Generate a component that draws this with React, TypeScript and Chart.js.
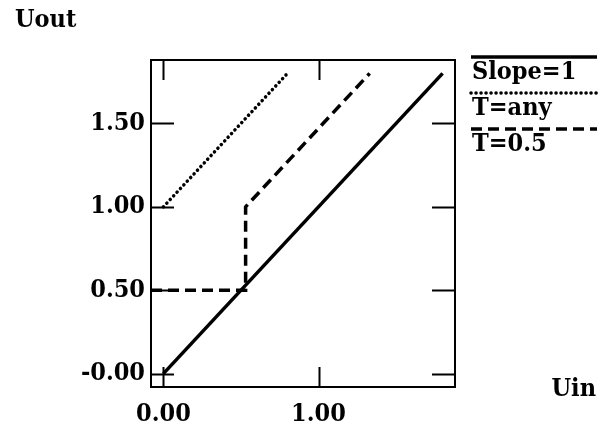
import React, { useEffect, useRef } from "react";
import { Chart, registerables } from "chart.js";

Chart.register(...registerables);

// ---- data ----
const seriesLabels = ["Slope=1", "T=any", "T=0.5"];
const solidX = [0, 1.8];
const solidY = [0, 1.8];
const dottedX = [0, 0.8];
const dottedY = [1.0, 1.8];
const dashedX = [-0.08, 0.53, 0.53, 1.33];
const dashedY = [0.5, 0.5, 1.0, 1.8];
const xTicks = [0, 1];
const xTickLabels = ["0.00", "1.00"];
const yTicks = [0, 0.5, 1.0, 1.5];
const yTickLabels = ["-0.00", "0.50", "1.00", "1.50"];
const xTitle = "Uin";
const yTitle = "Uout";

const FONT = '"DejaVu Serif Condensed", "DejaVu Serif", serif';
const FSIZE = 25;

const toPts = (xs: number[], ys: number[]) => xs.map((x, i) => ({ x, y: ys[i] }));

const decorPlugin = {
  id: "decor",
  afterDraw(chart: any) {
    const ctx = chart.ctx as CanvasRenderingContext2D;
    const ca = chart.chartArea;
    const xs = chart.scales.x;
    const ys = chart.scales.y;
    ctx.save();
    ctx.strokeStyle = "#000";
    ctx.fillStyle = "#000";
    ctx.lineWidth = 2;
    // frame
    ctx.strokeRect(ca.left, ca.top, ca.right - ca.left, ca.bottom - ca.top);
    // inner ticks
    ctx.beginPath();
    xTicks.forEach((v) => {
      const px = Math.round(xs.getPixelForValue(v)) + 0.5;
      ctx.moveTo(px, ca.bottom);
      ctx.lineTo(px, ca.bottom - 20);
      ctx.moveTo(px, ca.top);
      ctx.lineTo(px, ca.top + 20);
    });
    yTicks.forEach((v) => {
      const py = Math.round(ys.getPixelForValue(v)) + 0.5;
      ctx.moveTo(ca.left, py);
      ctx.lineTo(ca.left + 23, py);
      ctx.moveTo(ca.right, py);
      ctx.lineTo(ca.right - 23, py);
    });
    ctx.stroke();
    // axis titles
    ctx.font = `bold ${FSIZE}px ${FONT}`;
    ctx.textBaseline = "alphabetic";
    ctx.textAlign = "left";
    ctx.fillText(yTitle, 15, 27);
    ctx.textAlign = "right";
    ctx.fillText(xTitle, 596, 396);
    // legend
    ctx.textAlign = "left";
    chart.data.datasets.forEach((ds: any, i: number) => {
      const ly = 57 + i * 36;
      ctx.save();
      ctx.lineWidth = ds.borderWidth;
      ctx.lineCap = ds.borderCapStyle || "butt";
      ctx.setLineDash(ds.borderDash || []);
      ctx.beginPath();
      ctx.moveTo(471, ly);
      ctx.lineTo(597, ly);
      ctx.stroke();
      ctx.restore();
      ctx.fillText(ds.label, 472, ly + 22);
    });
    ctx.restore();
  },
};

export default function App() {
  const ref = useRef<HTMLCanvasElement | null>(null);
  useEffect(() => {
    if (!ref.current) return;
    const tickFont = { family: FONT, size: FSIZE, weight: "bold" as const };
    const chart = new Chart(ref.current, {
      type: "scatter",
      data: {
        datasets: [
          {
            label: seriesLabels[0],
            data: toPts(solidX, solidY),
            showLine: true,
            borderColor: "#000",
            borderWidth: 3.5,
            pointRadius: 0,
            borderDash: [],
          },
          {
            label: seriesLabels[1],
            data: toPts(dottedX, dottedY),
            showLine: true,
            borderColor: "#000",
            borderWidth: 3.5,
            pointRadius: 0,
            borderDash: [0.1, 4.9],
            borderCapStyle: "round",
          },
          {
            label: seriesLabels[2],
            data: toPts(dashedX, dashedY),
            showLine: true,
            borderColor: "#000",
            borderWidth: 3.5,
            pointRadius: 0,
            borderDash: [11, 6],
          },
        ],
      },
      options: {
        animation: false,
        responsive: false,
        devicePixelRatio: 1,
        layout: { padding: { left: 0, top: 60, right: 146, bottom: 0 } },
        plugins: { legend: { display: false }, tooltip: { enabled: false }, title: { display: false } },
        scales: {
          x: {
            type: "linear",
            min: -0.08,
            max: 1.88,
            grid: { display: false, drawTicks: false },
            border: { display: false },
            afterBuildTicks: (s: any) => {
              s.ticks = xTicks.map((v) => ({ value: v }));
            },
            afterFit: (s: any) => {
              s.height = 45;
            },
            ticks: {
              color: "#000",
              font: tickFont,
              padding: 12,
              maxRotation: 0,
              autoSkip: false,
              callback: (_v: any, i: number) => xTickLabels[i],
            },
          },
          y: {
            type: "linear",
            min: -0.08,
            max: 1.88,
            grid: { display: false, drawTicks: false },
            border: { display: false },
            afterBuildTicks: (s: any) => {
              s.ticks = yTicks.map((v) => ({ value: v }));
            },
            afterFit: (s: any) => {
              s.width = 151;
            },
            ticks: {
              color: "#000",
              font: tickFont,
              padding: 6,
              autoSkip: false,
              callback: (_v: any, i: number) => yTickLabels[i],
            },
          },
        },
      },
      plugins: [decorPlugin],
    });
    return () => chart.destroy();
  }, []);
  return (
    <div style={{ position: "fixed", left: 0, top: 0, width: 601, height: 432, background: "#fff" }}>
      <canvas ref={ref} width={601} height={432} style={{ display: "block", width: 601, height: 432 }} />
    </div>
  );
}
